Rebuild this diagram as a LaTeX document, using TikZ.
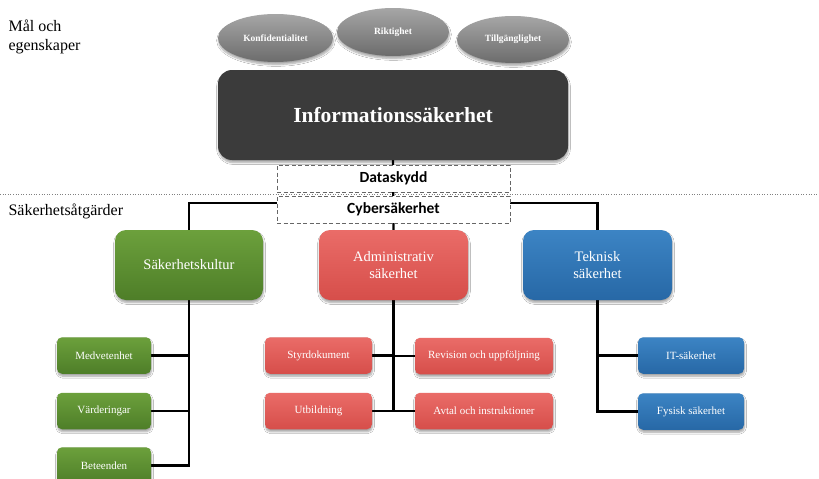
\documentclass[tikz,border=0pt]{standalone}
\usepackage{fontspec}
\setmainfont{Liberation Serif}
\newfontfamily\calibri{Carlito}
\usetikzlibrary{backgrounds,shadows.blur,shapes.geometric}
\definecolor{grtop}{HTML}{6CA03C}
\definecolor{grbot}{HTML}{4E7E28}
\definecolor{rdtop}{HTML}{EA6C68}
\definecolor{rdbot}{HTML}{D64E4A}
\definecolor{bltop}{HTML}{3C84C4}
\definecolor{blbot}{HTML}{2768A6}
\definecolor{eltop}{HTML}{A6A6A6}
\definecolor{elbot}{HTML}{6C6C6C}
\definecolor{infobox}{HTML}{3B3B3B}
\tikzset{
  shd/.style={blur shadow={shadow xshift=0.5pt, shadow yshift=-2.5pt, shadow blur steps=6, shadow opacity=35}},
  mainbox/.style={shd, rounded corners=11pt, minimum width=148pt, minimum height=70pt, align=center,
    text=white, font=\fontsize{14.5}{17}\selectfont},
  childbox/.style={shd, rounded corners=5pt, minimum height=36.5pt, align=center,
    text=white, font=\fontsize{11}{13}\selectfont},
  greenfill/.style={top color=grtop, bottom color=grbot},
  redfill/.style={top color=rdtop, bottom color=rdbot},
  bluefill/.style={top color=bltop, bottom color=blbot},
  goal/.style={shd, ellipse, top color=eltop, bottom color=elbot, minimum width=112pt, minimum height=48pt,
    text=white, font=\bfseries\fontsize{9.5}{11}\selectfont, inner sep=0pt},
  dashbox/.style={draw=gray!80!black, dash pattern=on 4pt off 2.5pt, line width=0.8pt, fill=white, minimum width=233pt, minimum height=27pt,
    font=\calibri\bfseries\fontsize{15.5}{18}\selectfont},
  conn/.style={line width=2.2pt, black},
  heading/.style={anchor=west, align=left, font=\fontsize{16}{19}\selectfont}
}
\begin{document}
\begin{tikzpicture}[x=1pt,y=-1pt]
\useasboundingbox (0,0) rectangle (819,479);

% headings
\node[heading] (goals) at (5,36.5) {Mål och\\egenskaper};
\node[heading] (measures) at (5,211) {Säkerhetsåtgärder};

% divider
\coordinate (divL) at (0,194);
\coordinate (divR) at (819,194);

% goals
\node[goal, minimum width=115pt] (konf) at (275.5,38) {Konfidentialitet};
\node[goal] (rikt) at (393,32) {Riktighet};
\node[goal, minimum height=47pt] (till) at (513,39.5) {Tillgänglighet};

% main
\node[shd, fill=infobox, rounded corners=14pt, minimum width=350pt, minimum height=90pt,
  text=white, font=\bfseries\fontsize{21.5}{24}\selectfont] (info) at (393,115) {Informationssäkerhet};

\node[dashbox] (data) at (393.5,178.5) {Dataskydd};
\node[dashbox] (cyber) at (393.5,209.5) {Cybersäkerhet};

% level 2
\node[mainbox, greenfill] (kultur) at (189,265) {Säkerhetskultur};
\node[mainbox, redfill, minimum width=149pt] (admin) at (393.5,265) {Administrativ\\säkerhet};
\node[mainbox, bluefill, minimum width=149pt] (tek) at (597.5,265) {Teknisk\\säkerhet};

% green children
\node[childbox, greenfill, minimum width=94pt] (medv) at (104,355.5) {Medvetenhet};
\node[childbox, greenfill, minimum width=94pt] (varde) at (104,411) {Värderingar};
\node[childbox, greenfill, minimum width=94pt] (bete) at (104,465.5) {Beteenden};

% red children
\node[childbox, redfill, minimum width=107pt] (styr) at (318.5,355.5) {Styrdokument};
\node[childbox, redfill, minimum width=107pt] (utb) at (318.5,411) {Utbildning};
\node[childbox, redfill, minimum width=138pt] (rev) at (484,356) {Revision och uppföljning};
\node[childbox, redfill, minimum width=138pt] (avtal) at (484,411) {Avtal och instruktioner};

% blue children
\node[childbox, bluefill, minimum width=106pt] (it) at (691,355.5) {IT-säkerhet};
\node[childbox, bluefill, minimum width=106pt] (fys) at (691,411.5) {Fysisk säkerhet};

\coordinate (bus) at (393,203);

\begin{scope}[on background layer]
  \fill[white] (0,0) rectangle (819,479);
  \draw[gray, dotted, line width=0.6pt] (divL) -- (divR);
  \draw[conn] (info.south) -- (admin.north);
  \draw[conn] (kultur.north) |- (bus) -| (tek.north);
  \draw[conn] (medv.east) -| (kultur.south);
  \draw[conn] (varde.east) -| (kultur.south);
  \draw[conn] (bete.east) -| (kultur.south);
  \draw[conn] (styr.east) -| (admin.south);
  \draw[conn] (utb.east) -| (admin.south);
  \draw[conn] (rev.west) -| (admin.south);
  \draw[conn] (avtal.west) -| (admin.south);
  \draw[conn] (it.west) -| (tek.south);
  \draw[conn] (fys.west) -| (tek.south);
\end{scope}
\end{tikzpicture}
\end{document}
